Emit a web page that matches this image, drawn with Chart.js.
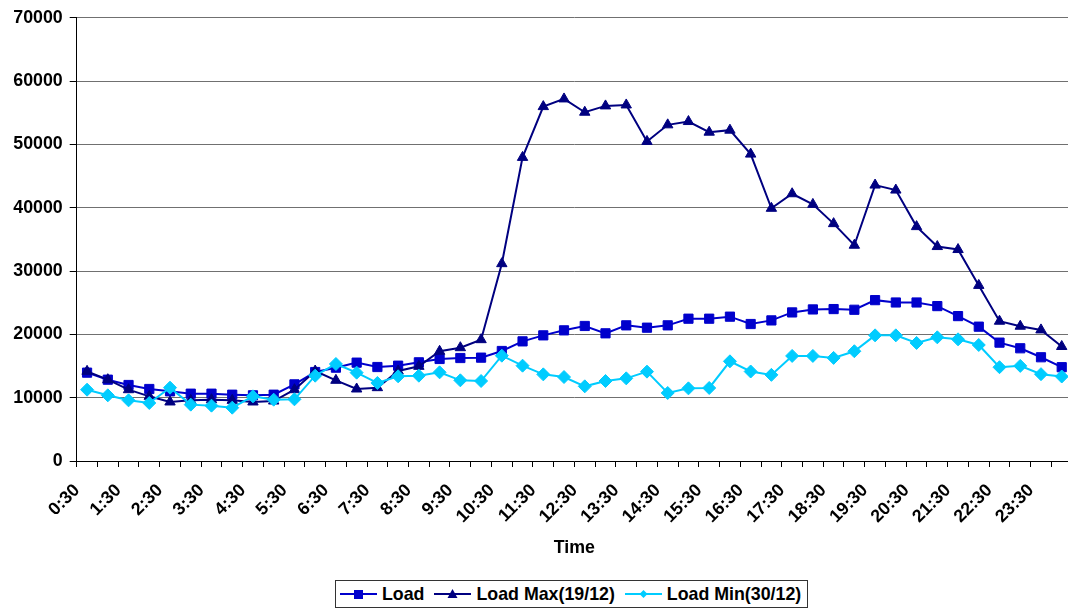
<!DOCTYPE html>
<html>
<head>
<meta charset="utf-8">
<script src="https://cdn.jsdelivr.net/npm/chart.js@4/dist/chart.umd.min.js"></script>
<style>
  html, body { margin: 0; padding: 0; overflow: hidden; background: #fff; }
  #wrap { position: relative; width: 1090px; height: 609px; }
  #legend {
    position: absolute; left: 335px; top: 580px; height: 26px;
    border: 1px solid #333; background: #fff;
    display: flex; align-items: center; padding: 0 4px 0 4px;
    font: bold 17.8px "Liberation Sans", Arial, sans-serif; color: #000;
  }
  #legend .item { display: flex; align-items: center; margin-right: 10px; }
  #legend .item:last-child { margin-right: 2px; }
  #legend svg { margin-right: 5px; }
</style>
</head>
<body>
<div id="wrap">
  <canvas id="loadChart"></canvas>
  <div id="legend">
    <div class="item">
      <svg width="37" height="14"><line x1="0" y1="7" x2="37" y2="7" stroke="#0000CC" stroke-width="2"/><rect x="14" y="3" width="9" height="9" fill="#0000CC"/></svg>
      <span>Load</span>
    </div>
    <div class="item">
      <svg width="37" height="14"><line x1="0" y1="7" x2="37" y2="7" stroke="#000080" stroke-width="2"/><polygon points="18.5,2 23.5,11 13.5,11" fill="#000080"/></svg>
      <span>Load Max(19/12)</span>
    </div>
    <div class="item">
      <svg width="37" height="14"><line x1="0" y1="7" x2="37" y2="7" stroke="#00CCFF" stroke-width="2"/><polygon points="18.5,3 22.5,7 18.5,11 14.5,7" fill="#00CCFF"/></svg>
      <span>Load Min(30/12)</span>
    </div>
  </div>
</div>
<script>
const timeLabels = [
  '0:30','1:00','1:30','2:00','2:30','3:00','3:30','4:00','4:30','5:00','5:30','6:00',
  '6:30','7:00','7:30','8:00','8:30','9:00','9:30','10:00','10:30','11:00','11:30','12:00',
  '12:30','13:00','13:30','14:00','14:30','15:00','15:30','16:00','16:30','17:00','17:30','18:00',
  '18:30','19:00','19:30','20:00','20:30','21:00','21:30','22:00','22:30','23:00','23:30','24:00'
];

const loadValues = [
  13950,12840,12000,11370,11000,10630,10630,10470,10370,10470,12100,14050,
  14740,15530,14840,15050,15580,16110,16260,16320,17370,18890,19840,20630,
  21320,20160,21420,21050,21420,22470,22470,22790,21630,22200,23460,23930,
  23990,23880,25400,25030,25030,24460,22880,21210,18690,17800,16380,14810
];

const loadMaxValues = [
  14160,12840,11260,10210,9320,9580,9680,9580,9320,9470,11260,14210,
  12740,11370,11580,14210,14950,17320,17890,19160,31160,47940,55960,57170,
  55070,56070,56220,50460,53080,53600,51920,52240,48460,39900,42200,40520,
  37480,34070,43570,42780,37010,33860,33390,27730,22070,21280,20700,18080
];

const loadMinValues = [
  11260,10370,9580,9160,11580,8900,8740,8420,10210,9680,9740,13470,
  15320,13950,12320,13370,13470,14000,12740,12630,16630,15050,13680,13260,
  11790,12630,13050,14110,10740,11470,11530,15740,14130,13600,16590,16590,
  16280,17330,19840,19840,18640,19530,19210,18320,14810,15020,13710,13340
];

const yTicks = [0, 10000, 20000, 30000, 40000, 50000, 60000, 70000];

const fontBold = { family: '"Liberation Sans", Arial, sans-serif', size: 17.8, weight: 'bold' };

let ctx = document.getElementById('loadChart').getContext('2d');

let loadChart = new Chart(ctx, {
  type: 'line',
  data: {
    labels: timeLabels,
    datasets: [
      {
        label: 'Load',
        data: loadValues,
        borderColor: '#0000CC',
        backgroundColor: '#0000CC',
        borderWidth: 2,
        pointStyle: 'rect',
        pointRadius: 6.5,
        pointBorderWidth: 1,
        tension: 0,
        order: 3
      },
      {
        label: 'Load Max(19/12)',
        data: loadMaxValues,
        borderColor: '#000080',
        backgroundColor: '#000080',
        borderWidth: 2,
        pointStyle: 'triangle',
        pointRadius: 6,
        pointBorderWidth: 1,
        tension: 0,
        order: 2
      },
      {
        label: 'Load Min(30/12)',
        data: loadMinValues,
        borderColor: '#00CCFF',
        backgroundColor: '#00CCFF',
        borderWidth: 2,
        pointStyle: 'rectRot',
        pointRadius: 6.5,
        pointBorderWidth: 1,
        tension: 0,
        order: 1
      }
    ]
  },
  options: {
    responsive: true,
    maintainAspectRatio: false,
    animation: false,
    layout: { padding: { top: 16, right: 16.4, bottom: 46.5, left: 0 } },
    plugins: {
      legend: { display: false },
      tooltip: { enabled: false }
    },
    scales: {
      x: {
        offset: true,
        grid: {
          display: true,
          drawOnChartArea: false,
          offset: true,
          tickLength: 6,
          tickColor: '#000'
        },
        border: { color: '#000', width: 1 },
        ticks: {
          autoSkip: false,
          minRotation: 45,
          maxRotation: 45,
          padding: 13,
          labelOffset: -10,
          color: '#000',
          font: fontBold,
          callback: function (value, index) {
            return index % 2 === 0 ? timeLabels[index] : '';
          }
        },
        title: {
          display: true,
          text: 'Time',
          color: '#000',
          font: fontBold,
          padding: { top: 4, bottom: 4 }
        },
        afterFit: function (scale) { scale.height = 101.5; }
      },
      y: {
        min: 0,
        max: 70000,
        afterBuildTicks: function (scale) {
          scale.ticks = yTicks.map(v => ({ value: v }));
        },
        grid: {
          color: '#707070',
          lineWidth: 1,
          tickLength: 7,
          tickColor: '#000'
        },
        border: { color: '#000', width: 1 },
        ticks: {
          padding: 7,
          color: '#000',
          font: fontBold,
          callback: function (value) { return String(value); }
        },
        afterFit: function (scale) { scale.width = 76.7; }
      }
    }
  }
});
</script>
</body>
</html>
